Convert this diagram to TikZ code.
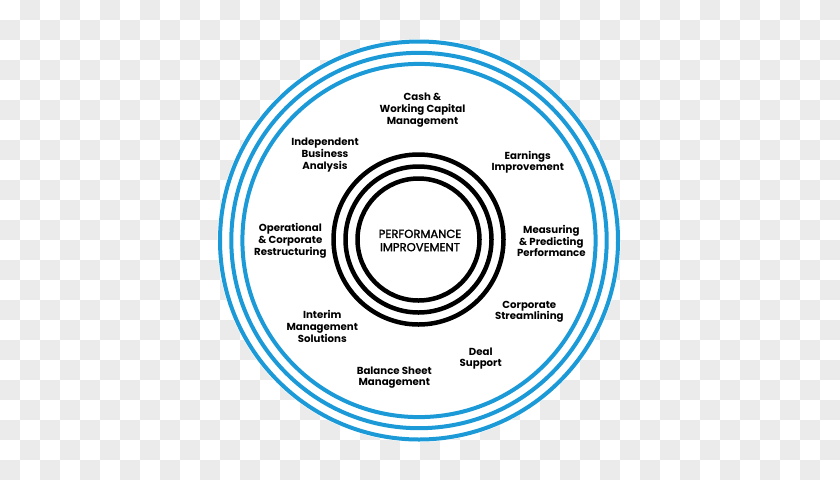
\documentclass[tikz,border=0pt]{standalone}
\usepackage{fontspec}
\setmainfont{Poppins}
\newfontfamily\centerfont[FakeBold=1.6]{Poppins}
\definecolor{ringblue}{HTML}{1B9AD7}
\definecolor{checkgray}{HTML}{EBEBEB}
\tikzset{
  lbl/.style={align=center, inner sep=0pt, font=\fontsize{10.2}{11.7}\selectfont\bfseries, text=black},
  centerlbl/.style={align=center, inner sep=0pt, font=\centerfont\fontsize{11.6}{13.3}\selectfont, text=black},
  bluering/.style={draw=ringblue, line width=4pt},
  blackring/.style={draw=black, line width=4.5pt}
}
\begin{document}
\begin{tikzpicture}[x=1pt,y=-1pt]
\useasboundingbox (0,0) rectangle (840,480);
\fill[white] (0,0) rectangle (840,480);
\foreach \i in {0,...,41}{
  \foreach \j in {0,...,23}{
    \pgfmathtruncatemacro{\myparity}{mod(\i+\j,2)}
    \ifnum\myparity=1
      \fill[checkgray] (\i*20,\j*20) rectangle ++(20,20);
    \fi
  }
}
\coordinate (c) at (419,240.5);
\coordinate (ci) at (418.5,239.5);
\fill[white] (c) circle[radius=201.5];
\draw[bluering] (c) circle[radius=199];
\draw[bluering] (c) circle[radius=187.7];
\draw[bluering] (c) circle[radius=176.6];
\draw[blackring] (ci) circle[radius=85];
\draw[blackring] (ci) circle[radius=73];
\draw[blackring] (ci) circle[radius=61];
\node[centerlbl] (center) at (420,240.5) {PERFORMANCE\\IMPROVEMENT};
\node[lbl] (cash) at (422.5,110) {Cash \&\\Working Capital\\Management};
\node[lbl] (indep) at (325,155) {Independent\\Business\\Analysis};
\node[lbl] (earn) at (527.7,162.4) {Earnings\\Improvement};
\node[lbl] (oper) at (290.3,241) {Operational\\\& Corporate\\Restructuring};
\node[lbl] (meas) at (551.3,241) {Measuring\\\& Predicting\\Performance};
\node[lbl] (interim) at (322.3,326.4) {Interim\\Management\\Solutions};
\node[lbl] (corp) at (529.3,311.7) {Corporate\\Streamlining};
\node[lbl] (deal) at (480.7,358.7) {Deal\\Support};
\node[lbl] (bal) at (394.3,377.7) {Balance Sheet\\Management};
\end{tikzpicture}
\end{document}
